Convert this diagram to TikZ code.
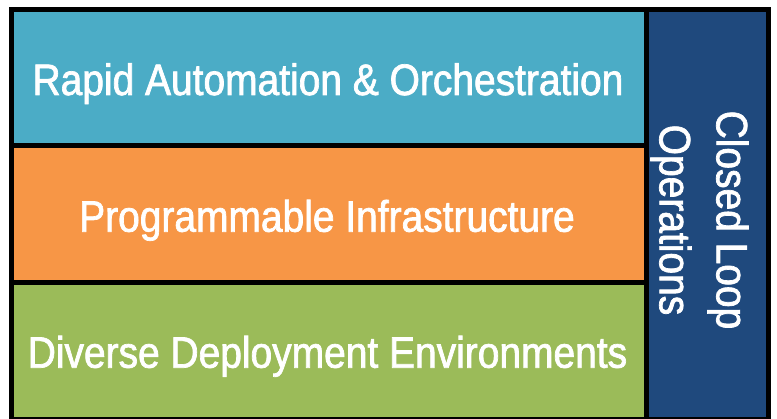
\documentclass[tikz,border=0pt]{standalone}
\usepackage{fontspec}
\setmainfont{Liberation Sans}[FakeStretch=0.885,FakeBold=1.6]
\definecolor{tealc}{HTML}{4BACC6}
\definecolor{orangec}{HTML}{F79646}
\definecolor{greenc}{HTML}{9BBB59}
\definecolor{navyc}{HTML}{1F497D}
\begin{document}
\begin{tikzpicture}[x=1pt,y=-1pt,
  panel/.style={draw=black,line width=5pt,inner sep=0pt},
  label/.style={text=white,inner sep=0pt,anchor=base,font=\fontsize{44}{57}\selectfont}]
\useasboundingbox (0,0) rectangle (777,419);
\begin{scope}
\clip (0,0) rectangle (777,419);
\filldraw[panel,fill=tealc] (11,9.7) rectangle (646,145.3);
\filldraw[panel,fill=orangec] (11,145.3) rectangle (646,282.5);
\filldraw[panel,fill=greenc] (11,282.5) rectangle (646,419.5);
\filldraw[panel,fill=navyc] (646,9.7) rectangle (768,419.5);
\end{scope}
\node[label] (t1) at (328,95) {Rapid Automation \& Orchestration};
\node[label] (t2) at (327,231.7) {Programmable Infrastructure};
\node[label] (t3) at (327.5,367.7) {Diverse Deployment Environments};
\node[label,anchor=center,align=center,rotate=-90] (t4) at (699.5,220) {Closed Loop\\Operations};
\end{tikzpicture}
\end{document}
